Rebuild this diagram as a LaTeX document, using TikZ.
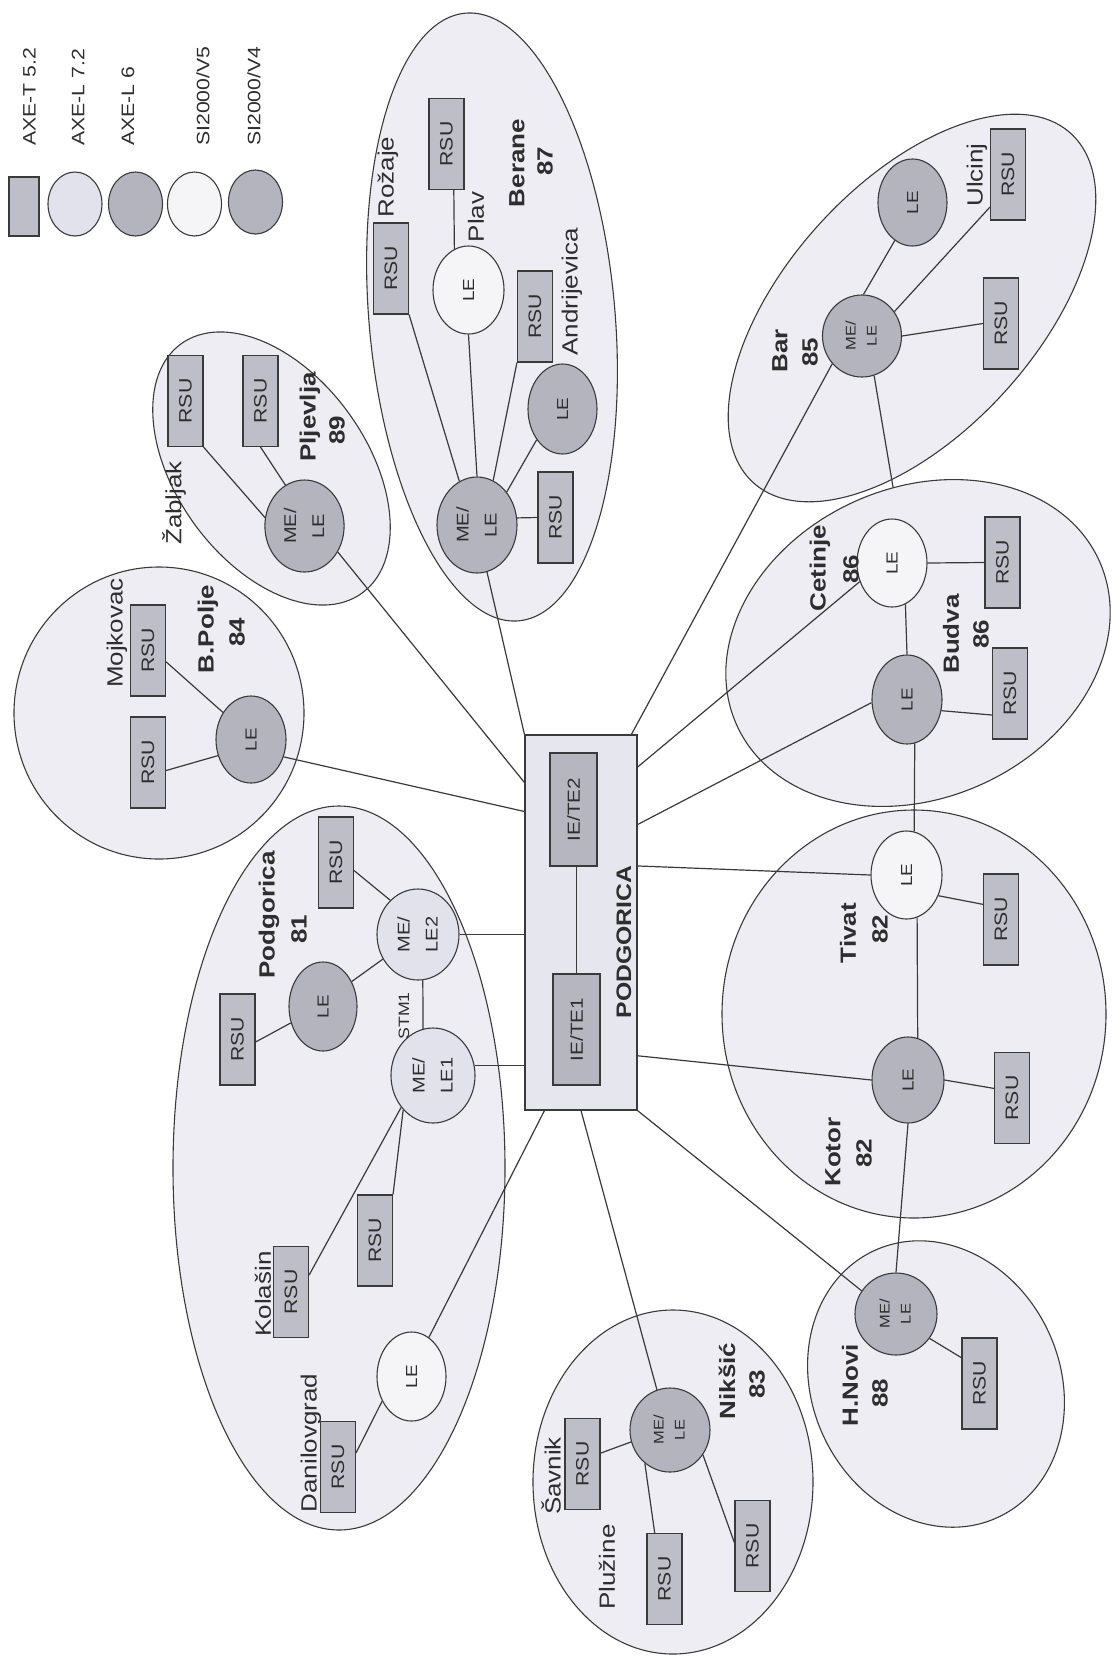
\documentclass[tikz,border=0pt]{standalone}
\usepackage{fontspec}
\setmainfont{Liberation Sans}
\usepackage{graphicx}
\usetikzlibrary{shapes.geometric}
\definecolor{clfill}{HTML}{EDEDF3}
\definecolor{rsufill}{HTML}{BEBEC8}
\definecolor{darkfill}{HTML}{B4B4BE}
\definecolor{lightfill}{HTML}{E2E2EC}
\definecolor{whitefill}{HTML}{F5F5F7}
\definecolor{pdfill}{HTML}{E6E6EE}
\definecolor{iefill}{HTML}{B6B6C0}
\definecolor{lc}{HTML}{3A3A3A}
\definecolor{tc}{HTML}{2E2E2E}
\newcommand{\rtx}[1]{\rotatebox{90}{\scalebox{1.18}[1]{#1}}}
\newcommand{\rtxx}[2]{\rotatebox{90}{\scalebox{1.18}[1]{\begin{tabular}{@{}c@{}}#1\\#2\end{tabular}}}}
\newcommand{\clu}[6]{\path[#1, shift={(#2,#3)}, rotate=#4] (0,0) ellipse [x radius=#5, y radius=#6];}
\newcommand{\allclusters}[1]{%
 \clu{#1}{271.5}{468.5}{126}{154}{95}%
 \clu{#1}{492}{317}{95}{305}{123}%
 \clu{#1}{912}{308}{47.7}{236}{125}%
 \clu{#1}{918}{643}{24.5}{199}{155}%
 \clu{#1}{159}{713}{0}{145}{146}%
 \clu{#1}{339}{1168}{0}{166}{362}%
 \clu{#1}{914}{1014}{0}{192}{204}%
 \clu{#1}{936}{1384}{115}{147}{124}%
 \clu{#1}{673}{1482}{0}{140}{172}%
}
\tikzset{
 rsu/.style={draw=lc, fill=rsufill, line width=1.1pt, minimum width=35pt, minimum height=91pt, inner sep=0pt, font=\fontsize{18}{18}\selectfont, text=tc},
 le/.style={ellipse, draw=lc, line width=1.1pt, inner sep=0pt, minimum width=70pt, minimum height=88pt, font=\fontsize{16}{16}\selectfont, text=tc},
 fdark/.style={fill=darkfill}, flight/.style={fill=lightfill}, fwhite/.style={fill=whitefill},
 conn/.style={draw=lc, line width=1.2pt},
 lbl/.style={inner sep=0pt, font=\fontsize{22}{22}\selectfont, text=tc},
 blbl/.style={inner sep=0pt, font=\fontsize{22}{22}\selectfont\bfseries, text=tc},
 mel/.style={font=\fontsize{17}{28}\selectfont},
 mes/.style={font=\fontsize{14}{21}\selectfont},
}
\begin{document}
\begin{tikzpicture}[x=1pt,y=-1pt]
\useasboundingbox[fill=white] (0,0) rectangle (1119,1658);
% clusters
\allclusters{fill=clfill}
\allclusters{draw=lc, line width=1.1pt}
% legend
\node[rsu, minimum width=30pt, minimum height=59pt] (lgR) at (24,206.5) {};
\node[le, flight, minimum width=54pt, minimum height=64pt] (lg1) at (75,204) {};
\node[le, fdark, minimum width=54pt, minimum height=64pt] (lg2) at (135.5,204) {};
\node[le, fwhite, minimum width=54pt, minimum height=64pt] (lg3) at (194.5,204) {};
\node[le, fdark, minimum width=54pt, minimum height=64pt] (lg4) at (255.5,202) {};
\node[lbl, font=\fontsize{18}{18}\selectfont, anchor=south] (lt1) at (29.5,146) {\rtx{AXE-T 5.2}};
\node[lbl, font=\fontsize{18}{18}\selectfont, anchor=south] (lt2) at (78,146) {\rtx{AXE-L 7.2}};
\node[lbl, font=\fontsize{18}{18}\selectfont, anchor=south] (lt3) at (128,146) {\rtx{AXE-L 6}};
\node[lbl, font=\fontsize{18}{18}\selectfont, anchor=south] (lt4) at (203,146) {\rtx{SI2000/V5}};
\node[lbl, font=\fontsize{18}{18}\selectfont, anchor=south] (lt5) at (254,146) {\rtx{SI2000/V4}};
% central box
\node[draw=lc, fill=pdfill, line width=1.1pt, minimum width=112pt, minimum height=375pt, inner sep=0pt] (Pd) at (581,922.5) {};
\node[rsu, fill=iefill, minimum width=47pt, minimum height=113pt, font=\fontsize{17.5}{17.5}\selectfont] (Ie2) at (573.5,809.5) {\rtx{IE/TE2}};
\node[rsu, fill=iefill, minimum width=47pt, minimum height=111pt, font=\fontsize{17.5}{17.5}\selectfont] (Ie1) at (576.5,1029.5) {\rtx{IE/TE1}};
\node[blbl, font=\fontsize{21}{21}\selectfont\bfseries] (PdL) at (624,942) {\rtx{PODGORICA}};
% Pljevlja
\node[rsu] (P_r1) at (185.5,401) {\rtx{RSU}};
\node[rsu] (P_r2) at (260.5,401) {\rtx{RSU}};
\node[le, fdark, mel, minimum width=75pt, minimum height=92pt] (P_me) at (304.5,526) {\rtxx{ME/}{LE}};
% Berane
\node[rsu] (B_rz) at (391,268.5) {\rtx{RSU}};
\node[rsu] (B_pl) at (446.5,144) {\rtx{RSU}};
\node[rsu] (B_an) at (535,316.5) {\rtx{RSU}};
\node[rsu] (B_r4) at (555.5,517.5) {\rtx{RSU}};
\node[le, fwhite, minimum width=71pt, minimum height=88pt] (B_le) at (468.5,290) {\rtx{LE}};
\node[le, fdark, minimum width=69pt, minimum height=90pt] (B_anle) at (562.5,409) {\rtx{LE}};
\node[le, fdark, mel, minimum width=80pt, minimum height=96pt] (B_me) at (477,525) {\rtxx{ME/}{LE}};
% Bar
\node[rsu] (Bar_ul) at (1008,174.5) {\rtx{RSU}};
\node[rsu] (Bar_r) at (1001,323.5) {\rtx{RSU}};
\node[le, fdark, minimum width=69pt, minimum height=87pt] (Bar_le) at (912.5,202.5) {\rtx{LE}};
\node[le, fdark, mes, minimum width=79pt, minimum height=82pt] (Bar_me) at (862,336) {\rtxx{ME/}{LE}};
\coordinate (barend) at (893,487);
% Cetinje / Budva
\node[rsu] (Ce_r) at (1002.5,562.5) {\rtx{RSU}};
\node[rsu] (Bu_r) at (1010,693.5) {\rtx{RSU}};
\node[le, fwhite] (Ce_le) at (892,563) {\rtx{LE}};
\node[le, fdark, minimum height=89pt] (Bu_le) at (907,699.5) {\rtx{LE}};
% Tivat / Kotor
\node[rsu] (Ti_r) at (1001,919.5) {\rtx{RSU}};
\node[rsu] (Ko_r) at (1012,1098) {\rtx{RSU}};
\node[le, fwhite, minimum width=71pt] (Ti_le) at (906.5,875) {\rtx{LE}};
\node[le, fdark, minimum width=72pt, minimum height=86pt] (Ko_le) at (908,1080) {\rtx{LE}};
% H.Novi
\node[rsu] (HN_r) at (979.5,1383.5) {\rtx{RSU}};
\node[le, fdark, mes, minimum width=82pt, minimum height=82pt] (HN_me) at (896,1314) {\rtxx{ME/}{LE}};
% Niksic
\node[rsu] (N_sa) at (582.5,1464) {\rtx{RSU}};
\node[rsu] (N_pl) at (664.5,1579) {\rtx{RSU}};
\node[rsu] (N_r) at (752.5,1546) {\rtx{RSU}};
\node[le, fdark, mes, minimum width=80pt, minimum height=84pt] (N_me) at (670,1430) {\rtxx{ME/}{LE}};
% B.Polje
\node[rsu] (BP_mo) at (148,650.5) {\rtx{RSU}};
\node[rsu] (BP_r) at (148,762.5) {\rtx{RSU}};
\node[le, fdark, minimum height=87pt] (BP_le) at (251,739.5) {\rtx{LE}};
% Podgorica
\node[rsu] (Pg_r1) at (336,862.5) {\rtx{RSU}};
\node[rsu] (Pg_r2) at (237.5,1039.5) {\rtx{RSU}};
\node[rsu] (Pg_r3) at (375,1240.5) {\rtx{RSU}};
\node[rsu] (Pg_ko) at (291,1292) {\rtx{RSU}};
\node[rsu] (Pg_da) at (338,1467) {\rtx{RSU}};
\node[le, flight, mel, minimum width=82pt, minimum height=91pt] (Pg_me2) at (418,934.5) {\rtxx{ME/}{LE2}};
\node[le, flight, mel, minimum width=84pt, minimum height=95pt] (Pg_me1) at (433,1075.5) {\rtxx{ME/}{LE1}};
\node[le, fdark, minimum width=68pt, minimum height=89pt] (Pg_le) at (323,1006.5) {\rtx{LE}};
\node[le, fwhite, minimum width=69pt, minimum height=89pt] (Pg_dle) at (411.5,1376.5) {\rtx{LE}};
% connectors
\draw[conn] (P_r1.south east) -- (P_me.168);
\draw[conn] (P_r2.south) -- (P_me.115);
\draw[conn] (P_me.-38) -- (Pd.112);
\draw[conn] (B_rz.south east) -- (B_me.112);
\draw[conn] (B_le.south) -- (B_me.north);
\draw[conn] (B_pl.-81) -- (B_le.109);
\draw[conn] (B_an.south west) -- (B_me.70);
\draw[conn] (B_anle.230) -- (B_me.48);
\draw[conn] (B_me.10) -- (B_r4.west);
\draw[conn] (B_me.-78) -- (Pd.north west);
\draw[conn] (Bar_me.88) -- (Bar_le.245);
\draw[conn] (Bar_me.37) -- (Bar_ul.241);
\draw[conn] (Bar_me.east) -- (Bar_r.west);
\draw[conn] (Bar_me.-73) -- (barend);
\draw[conn] (Bar_me.223) -- (Pd.75);
\draw[conn] (Ce_le.east) -- (Ce_r.west);
\draw[conn] (Ce_le.-72) -- (Bu_le.north);
\draw[conn] (Bu_le.-18) -- (Bu_r.230);
\draw[conn] (Bu_le.-80) -- (Ti_le.80);
\draw[conn] (Pd.70) -- (Ce_le.210);
\draw[conn] (Pd.60) -- (Bu_le.185);
\draw[conn] (Pd.45) -- (Ti_le.west);
\draw[conn] (Ti_le.-33) -- (Ti_r.140);
\draw[conn] (Ti_le.-76) -- (Ko_le.77);
\draw[conn] (Pd.-67) -- (Ko_le.west);
\draw[conn] (Ko_le.east) -- (Ko_r.152);
\draw[conn] (Ko_le.south) -- (HN_me.north);
\draw[conn] (Pd.south east) -- (HN_me.146);
\draw[conn] (HN_me.-36) -- (HN_r.125);
\draw[conn] (Pd.south) -- (N_me.108);
\draw[conn] (N_me.197) -- (N_sa.31);
\draw[conn] (N_me.233) -- (N_pl.102);
\draw[conn] (N_me.-37) -- (N_r.170);
\draw[conn] (BP_mo.-32) -- (BP_le.136);
\draw[conn] (BP_r.-24) -- (BP_le.206);
\draw[conn] (BP_le.-28) -- (Pd.117);
\draw[conn] (Pg_r1.-24) -- (Pg_me2.129);
\draw[conn] (Pg_le.41) -- (Pg_me2.215);
\draw[conn] (Pg_r2.-8) -- (Pg_le.207);
\draw[conn] (Pg_me2.-84) -- (Pg_me1.102);
\draw[conn] (Pg_me2.east) -- (Pg_me2.east -| Pd.west);
\draw[conn] (Pg_me1.14) -- (Pg_me1.14 -| Pd.west);
\draw[conn] (Pg_me1.225) -- (Pg_ko.43);
\draw[conn] (Pg_me1.229) -- (Pg_r3.north east);
\draw[conn] (Pg_dle.220) -- (Pg_da.38);
\draw[conn] (Pd.259) -- (Pg_dle.66);
\draw[conn] (Ie1.north |- Ie2.south) -- (Ie1.north);
% place labels
\node[lbl] (Lzab) at (174,503) {\rtx{Žabljak}};
\node[lbl] (Lroz) at (388,177) {\rtx{Rožaje}};
\node[lbl] (Lplav) at (476,217) {\rtx{Plav}};
\node[lbl] (Landr) at (572,292) {\rtx{Andrijevica}};
\node[lbl] (Lulc) at (977,175) {\rtx{Ulcinj}};
\node[lbl] (Lmoj) at (117,633) {\rtx{Mojkovac}};
\node[lbl] (Lkol) at (263,1294) {\rtx{Kolašin}};
\node[lbl] (Ldan) at (311,1443) {\rtx{Danilovgrad}};
\node[lbl] (Lsav) at (551,1476) {\rtx{Šavnik}};
\node[lbl] (Lplu) at (607,1567) {\rtx{Plužine}};
\node[lbl, font=\fontsize{15}{15}\selectfont] (Lstm) at (404,1016) {\rtx{STM1}};
% city labels
\node[blbl] (Cplj) at (310,417) {\rtx{Pljevlja}};
\node[blbl] (Nplj) at (337,430) {\rtx{89}};
\node[blbl] (Cber) at (517,163) {\rtx{Berane}};
\node[blbl] (Nber) at (545,161) {\rtx{87}};
\node[blbl] (Cbar) at (780,351) {\rtx{Bar}};
\node[blbl] (Nbar) at (810,352) {\rtx{85}};
\node[blbl] (Cbp) at (208,629) {\rtx{B.Polje}};
\node[blbl] (Nbp) at (237,632) {\rtx{84}};
\node[blbl] (Cpg) at (269,915) {\rtx{Podgorica}};
\node[blbl] (Npg) at (299,929) {\rtx{81}};
\node[blbl] (Cbu) at (951,634) {\rtx{Budva}};
\node[blbl] (Nbu) at (981,634) {\rtx{86}};
\node[blbl] (Cce) at (820,568) {\rtx{Cetinje}};
\node[blbl] (Nce) at (851,569) {\rtx{86}};
\node[blbl] (Cti) at (848,933) {\rtx{Tivat}};
\node[blbl] (Nti) at (880,929) {\rtx{82}};
\node[blbl] (Cko) at (833,1152) {\rtx{Kotor}};
\node[blbl] (Nko) at (864,1153) {\rtx{82}};
\node[blbl] (Chn) at (850,1385) {\rtx{H.Novi}};
\node[blbl] (Nhn) at (880,1393) {\rtx{88}};
\node[blbl] (Cni) at (727,1381) {\rtx{Nikšić}};
\node[blbl] (Nni) at (757,1384) {\rtx{83}};
\end{tikzpicture}
\end{document}
